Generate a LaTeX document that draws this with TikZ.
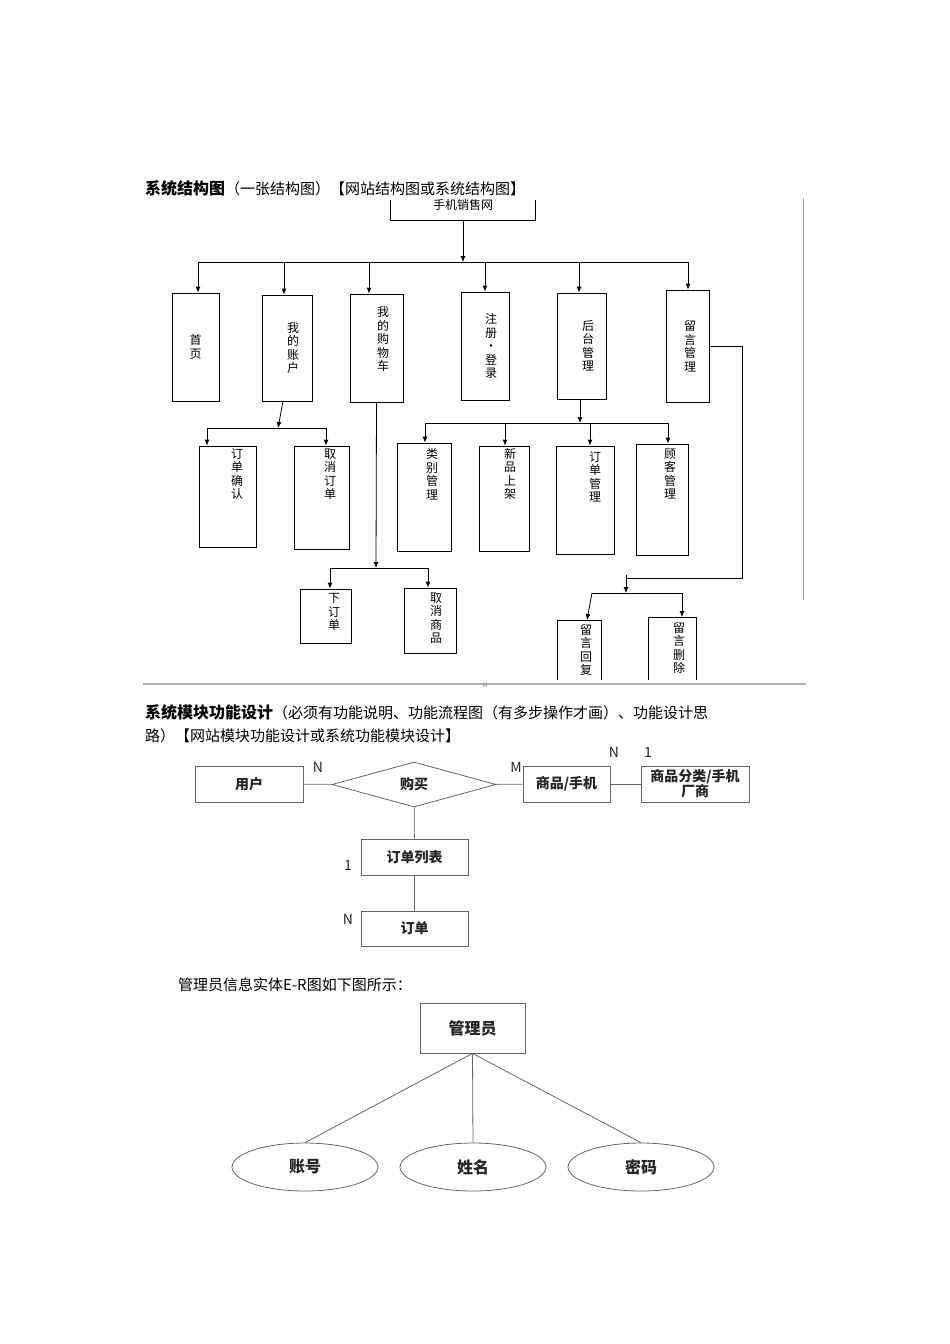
\documentclass[tikz,border=0pt]{standalone}
\usepackage{fontspec}
\setmainfont{Noto Sans CJK SC}
\usetikzlibrary{shapes.geometric,arrows.meta}
\begin{document}
\begin{tikzpicture}[x=1pt,y=-1pt,
 bx/.style={draw,thick,inner sep=0},
 vt/.style={font=\fontsize{12}{13.5}\selectfont,align=center,text width=12pt,inner sep=0},
 ar/.style={-{Latex[length=6pt,width=5pt]},thick},
 ln/.style={thick},
 eb/.style={draw=gray!80!black,thick,font=\fontsize{14}{16}\selectfont\bfseries,text=gray!30!black},
 gl/.style={draw=gray!80!black,thick},
 lab/.style={font=\fontsize{14}{16}\selectfont\itshape,text=gray!30!black}]
\useasboundingbox (0,0) rectangle (950,1344);
\fill[white] (0,0) rectangle (950,1344);
% title
\node[anchor=west,inner sep=0,font=\fontsize{16}{18}\selectfont] (t1) at (145,188) {{\bfseries 系统结构图}\fontsize{15}{18}\selectfont（一张结构图）【网站结构图或系统结构图】};
% top
\draw[ln] (390,200) -- (390,220) -- (535,220) -- (535,200);
\node[font=\fontsize{12}{14}\selectfont] (top) at (463,205) {手机销售网};
\coordinate (tb) at (463,220);
\coordinate (bus1) at (463,262);
\draw[ar] (tb) -- (bus1);
\draw[ln] (198,262) -- (688,262);
% level 1 boxes
\node[bx,minimum width=47,minimum height=108] (b1) at (195.5,347) {};
\node[bx,minimum width=50,minimum height=106] (b2) at (287,348) {};
\node[bx,minimum width=53,minimum height=108] (b3) at (376.5,348) {};
\node[bx,minimum width=48,minimum height=108] (b4) at (485,346) {};
\node[bx,minimum width=49,minimum height=106] (b5) at (581.5,346) {};
\node[bx,minimum width=43,minimum height=112] (b6) at (687.5,346) {};
\node[vt] at (b1) {首\\页};
\node[vt] at (293,348) {我\\的\\账\\户};
\node[vt] at (383,339) {我\\的\\购\\物\\车};
\node[vt] at (491,346) {注\\册\\·\\登\\录};
\node[vt] at (588,346) {后\\台\\管\\理};
\node[vt] at (690,346) {留\\言\\管\\理};
\foreach \x/\b in {198/b1,284/b2,369/b3,485/b4,579/b5,688/b6}
  \draw[ar] (\x,262) -- (\x,0|-\b.north);
% 我的账户 children
\coordinate (c2) at (278,428);
\draw[ar] (b2.south) ++(-4,0) -- (c2);
\draw[ln] (207,428) -- (326,428);
\node[bx,minimum width=57,minimum height=101] (o1) at (227.5,496.5) {};
\node[bx,minimum width=55,minimum height=103] (o2) at (321.5,497.5) {};
\node[vt] at (237,474) {订\\单\\确\\认};
\node[vt] at (330,474) {取\\消\\订\\单};
\draw[ar] (207,428) -- (207,0|-o1.north);
\draw[ar] (326,428) -- (326,0|-o2.north);
% cart children
\coordinate (c3) at (376,568);
\draw[ar] (b3.south) -- (c3);
\draw[ln] (330,568) -- (428,568);
\node[bx,minimum width=51,minimum height=54] (k1) at (325.5,616) {};
\node[bx,minimum width=52,minimum height=65] (k2) at (430,620.5) {};
\node[vt] at (334,612) {下\\订\\单};
\node[vt] at (436,618) {取\\消\\商\\品};
\draw[ar] (330,568) -- (330,0|-k1.north);
\draw[ar] (428,568) -- (428,0|-k2.north);
% admin children
\coordinate (c5) at (580,423);
\draw[ar] (580,399) -- (c5);
\draw[ln] (425,423) -- (668,423);
\node[bx,minimum width=54,minimum height=108] (a1) at (424,497) {};
\node[bx,minimum width=50,minimum height=105] (a2) at (504,498.5) {};
\node[bx,minimum width=58,minimum height=108] (a3) at (585,500) {};
\node[bx,minimum width=52,minimum height=111] (a4) at (662,499.5) {};
\node[vt] at (432,474) {类\\别\\管\\理};
\node[vt] at (510,474) {新\\品\\上\\架};
\node[vt] at (595,477) {订\\单\\管\\理};
\node[vt] at (670,474) {顾\\客\\管\\理};
\foreach \x/\b in {425/a1,505/a2,590/a3,668/a4}
  \draw[ar] (\x,423) -- (\x,0|-\b.north);
% message children
\draw[ln] (b6.east) -- (742,346) -- (742,578) -- (626,578);
\coordinate (c6) at (626,593);
\draw[ar] (626,575) -- (c6);
\draw[ln] (592,593) -- (682,593);
\draw[ln] (557,680) -- (557,620) -- (601,620) -- (601,680);
\draw[ln] (648,680) -- (648,617) -- (696,617) -- (696,680);
\coordinate (m1) at (587,620);
\coordinate (m2) at (682,617);
\draw[ar] (592,593) -- (m1);
\draw[ar] (682,593) -- (m2);
\node[vt] at (586,650) {留\\言\\回\\复};
\node[vt] at (679,648) {留\\言\\删\\除};
% frame lines
\draw[gray!60,line width=2pt] (143,684) -- (806,684);
\node[font=\fontsize{6}{6}\selectfont,text=gray] at (485,685) {III};
\draw[gray!70] (803,198) -- (803,600);
% section 2 title
\node[anchor=west,inner sep=0,font=\fontsize{16}{18}\selectfont] at (145,712) {{\bfseries 系统模块功能设计}\fontsize{15}{18}\selectfont（必须有功能说明、功能流程图（有多步操作才画）、功能设计思};
\node[anchor=west,inner sep=0,font=\fontsize{15}{18}\selectfont] at (145,736) {路）【网站模块功能设计或系统功能模块设计】};
% ER
\node[eb,minimum width=108,minimum height=36] (u) at (249,784) {用户};
\node[diamond,aspect=3.6,draw=gray!80!black,thick,inner sep=0,minimum width=164,minimum height=45,font=\fontsize{14}{16}\selectfont\bfseries,text=gray!30!black] (buy) at (414,784.5) {购买};
\node[eb,minimum width=87,minimum height=36] (p) at (566.5,784) {商品/手机};
\node[eb,minimum width=108,minimum height=36,align=center,font=\fontsize{14}{15}\selectfont\bfseries] (c) at (695,784) {商品分类/手机\\厂商};
\node[eb,minimum width=107,minimum height=36] (ol) at (414.5,857) {订单列表};
\node[eb,minimum width=107,minimum height=35] (od) at (414.5,928.5) {订单};
\draw[gl] (u) -- (buy);
\draw[gl] (buy) -- (p);
\draw[gl] (p) -- (c);
\draw[gl] (buy) -- (ol);
\draw[gl] (ol) -- (od);
\node[lab] at (318,767) {N};
\node[lab] at (516,767) {M};
\node[lab] at (614,752) {N};
\node[lab,font=\fontsize{14}{16}\selectfont] at (648,752) {1};
\node[lab,font=\fontsize{14}{16}\selectfont] at (348,865) {1};
\node[lab] at (348,919) {N};
% admin ER
\node[anchor=west,inner sep=0,font=\fontsize{15}{18}\selectfont] at (178,985) {管理员信息实体E-R图如下图所示：};
\node[eb,minimum width=105,minimum height=50,font=\fontsize{16}{18}\selectfont\bfseries] (adm) at (472.5,1028) {管理员};
\node[ellipse,draw=gray!80!black,thick,minimum width=146,minimum height=48,font=\fontsize{16}{18}\selectfont\bfseries,text=gray!30!black] (e1) at (305,1167) {账号};
\node[ellipse,draw=gray!80!black,thick,minimum width=146,minimum height=48,font=\fontsize{16}{18}\selectfont\bfseries,text=gray!30!black] (e2) at (473,1167) {姓名};
\node[ellipse,draw=gray!80!black,thick,minimum width=146,minimum height=48,font=\fontsize{16}{18}\selectfont\bfseries,text=gray!30!black] (e3) at (641,1167) {密码};
\draw[gl] (adm.south) -- (e1.north);
\draw[gl] (adm.south) -- (e2.north);
\draw[gl] (adm.south) -- (e3.north);
\end{tikzpicture}
\end{document}
